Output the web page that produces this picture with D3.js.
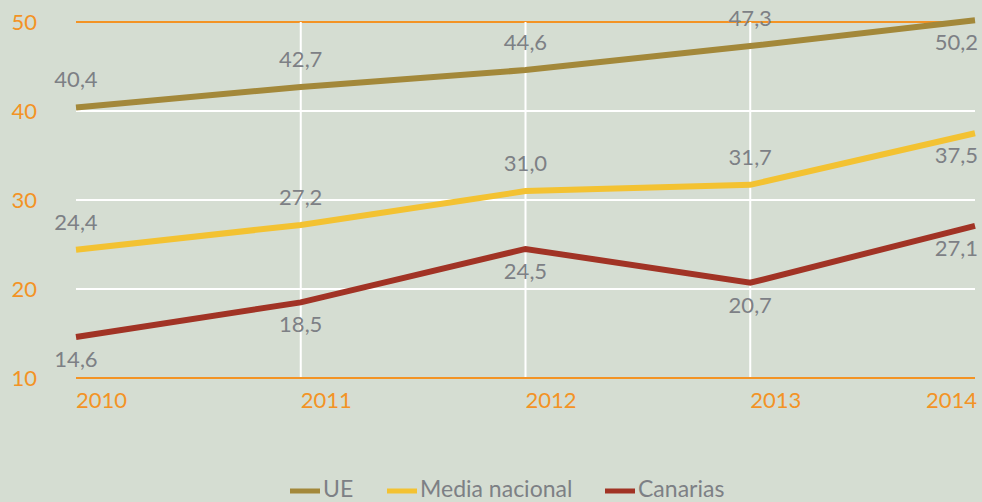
<!DOCTYPE html>
<html>
<head>
<meta charset="utf-8">
<script src="https://cdn.jsdelivr.net/npm/d3@7"></script>
<style>
  body { margin: 0; background: #d5ddd2; }
  svg { display: block; font-family: Lato, "Open Sans", sans-serif; }
</style>
</head>
<body>
<script>
const years = [2010, 2011, 2012, 2013, 2014];
const ue = [40.4, 42.7, 44.6, 47.3, 50.2];
const mediaNacional = [24.4, 27.2, 31.0, 31.7, 37.5];
const canarias = [14.6, 18.5, 24.5, 20.7, 27.1];
const yTicks = [10, 20, 30, 40, 50];

const series = [
  {name: 'UE', values: ue, color: '#a3883a', below: false},
  {name: 'Media nacional', values: mediaNacional, color: '#f3c232', below: false},
  {name: 'Canarias', values: canarias, color: '#a13325', below: true}
];

const width = 982, height = 502;
const orange = '#f39325';
const grey = '#7d8085';

const svg = d3.select('body').append('svg')
    .attr('width', width)
    .attr('height', height);

svg.append('rect').attr('width', width).attr('height', height).attr('fill', '#d5ddd2');

const x = d3.scalePoint().domain(years).range([76, 975]);
const y = d3.scaleLinear().domain([10, 50]).range([378, 22]);

// horizontal grid
svg.append('g').selectAll('line').data(yTicks).join('line')
    .attr('x1', 76).attr('x2', 975)
    .attr('y1', d => y(d)).attr('y2', d => y(d))
    .attr('stroke', d => (d === 10 || d === 50) ? orange : '#ffffff')
    .attr('stroke-width', 2);

// vertical grid (inner years)
svg.append('g').selectAll('line').data(years.slice(1, -1)).join('line')
    .attr('x1', d => x(d)).attr('x2', d => x(d))
    .attr('y1', y(50)).attr('y2', y(10) - 1)
    .attr('stroke', '#ffffff')
    .attr('stroke-width', 2);

// y labels
svg.append('g').selectAll('text').data(yTicks).join('text')
    .attr('x', 37).attr('y', d => y(d) + 8)
    .attr('text-anchor', 'end')
    .attr('fill', orange)
    .attr('font-size', 22)
    .text(d => d);

// x labels
svg.append('g').selectAll('text').data(years).join('text')
    .attr('x', (d, i) => i === years.length - 1 ? x(d) + 2 : x(d))
    .attr('y', 408)
    .attr('text-anchor', (d, i) => i === years.length - 1 ? 'end' : 'start')
    .attr('fill', orange)
    .attr('font-size', 22)
    .text(d => d);

const line = d3.line()
    .x((d, i) => x(years[i]))
    .y(d => y(d));

svg.append('g').selectAll('path').data(series).join('path')
    .attr('d', d => line(d.values))
    .attr('fill', 'none')
    .attr('stroke', d => d.color)
    .attr('stroke-width', 6);

const fmt = v => d3.format('.1f')(v).replace('.', ',');

series.forEach(s => {
  svg.append('g').selectAll('text').data(s.values).join('text')
    .attr('x', (d, i) => i === years.length - 1 ? x(years[i]) + 3 : x(years[i]))
    .attr('y', (d, i) => {
      const last = i === years.length - 1;
      return (s.below || last) ? y(d) + 30 : y(d) - 20;
    })
    .attr('text-anchor', (d, i) => i === years.length - 1 ? 'end' : 'middle')
    .attr('fill', grey)
    .attr('font-size', 22)
    .text(d => fmt(d));
});

// legend
const legendX = [290, 387, 605];
const legend = svg.append('g').selectAll('g').data(series).join('g')
    .attr('transform', (d, i) => `translate(${legendX[i]},0)`);
legend.append('line')
    .attr('x1', 0).attr('x2', 30)
    .attr('y1', 491).attr('y2', 491)
    .attr('stroke', d => d.color)
    .attr('stroke-width', 5);
legend.append('text')
    .attr('x', 33).attr('y', 497)
    .attr('fill', grey)
    .attr('font-size', 23)
    .text(d => d.name);
</script>
</body>
</html>
